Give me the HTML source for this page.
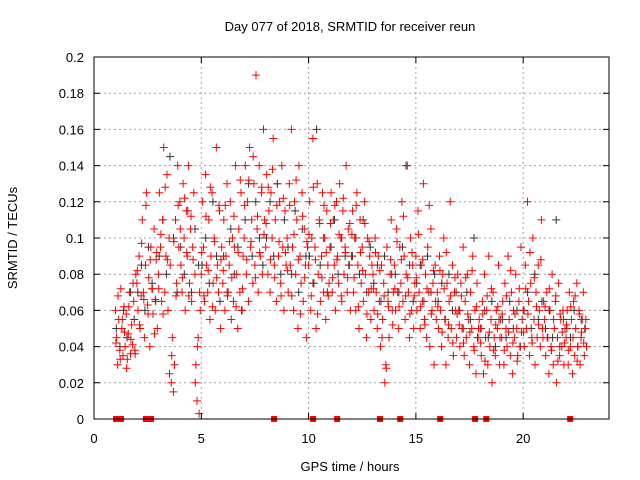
<!DOCTYPE html>
<html><head><meta charset="utf-8"><style>
body{margin:0;background:#fff}
svg{display:block;font-family:"Liberation Sans",sans-serif}
</style></head><body>
<svg id="chart" width="640" height="480" viewBox="0 0 640 480">
<rect width="640" height="480" fill="#fff"/>
<g id="grid"></g>
<g id="black"></g>
<g id="red"></g>
<g id="sq"></g>
<rect x="94" y="57" width="515" height="362" fill="none" stroke="#000" stroke-width="1"/>
<g id="ticks" font-size="13" fill="#000"></g>
<text x="350" y="31" text-anchor="middle" font-size="13">Day 077 of 2018, SRMTID for receiver reun</text>
<text x="350" y="471" text-anchor="middle" font-size="13">GPS time / hours</text>
<text transform="translate(17,238) rotate(-90)" text-anchor="middle" font-size="13">SRMTID / TECUs</text>
</svg>
<script>
const xTicks=[0,5,10,15,20];
const yTicks=[0,0.02,0.04,0.06,0.08,0.1,0.12,0.14,0.16,0.18,0.2];
const yTickLabels=["0","0.02","0.04","0.06","0.08","0.1","0.12","0.14","0.16","0.18","0.2"];
const redStartHour=1, redPerHour=20;
const redValues=[
.060,.045,.030,.055,.038,.072,.050,.035,.062,.040,.058,.033,.047,.070,.036,.052,.041,.065,.038,.080,
.075,.060,.090,.050,.068,.110,.070,.045,.085,.125,.063,.078,.040,.095,.072,.058,.105,.066,.088,.050,
.080,.125,.095,.065,.110,.150,.070,.090,.135,.060,.100,.085,.020,.045,.015,.030,.110,.075,.140,.095,
.120,.085,.070,.130,.100,.060,.115,.090,.140,.075,.105,.065,.095,.125,.080,.030,.010,.045,.003,.060,
.080,.120,.095,.065,.135,.085,.070,.110,.055,.090,.125,.075,.100,.060,.150,.085,.070,.115,.050,.095,
.075,.110,.060,.090,.130,.070,.085,.120,.055,.100,.065,.095,.140,.080,.050,.105,.070,.125,.060,.090,
.100,.140,.080,.120,.065,.150,.095,.110,.075,.130,.085,.190,.105,.070,.140,.090,.125,.080,.160,.110,
.095,.135,.080,.115,.070,.125,.100,.155,.085,.110,.065,.130,.090,.120,.075,.140,.095,.060,.115,.085,
.100,.070,.130,.085,.160,.095,.060,.120,.080,.110,.050,.140,.090,.075,.125,.065,.105,.085,.045,.095,
.085,.120,.060,.100,.155,.075,.095,.050,.130,.080,.110,.065,.090,.125,.070,.100,.055,.115,.085,.075,
.095,.125,.070,.110,.085,.060,.120,.090,.075,.130,.100,.065,.115,.080,.095,.140,.070,.105,.085,.060,
.090,.115,.070,.100,.060,.125,.085,.050,.110,.075,.095,.065,.120,.080,.045,.100,.070,.090,.055,.085,
.080,.060,.100,.070,.050,.090,.065,.040,.085,.055,.075,.020,.030,.095,.065,.045,.080,.110,.060,.070,
.085,.060,.105,.070,.050,.095,.075,.120,.065,.090,.055,.080,.140,.070,.045,.100,.060,.085,.050,.075,
.090,.060,.115,.070,.050,.085,.065,.130,.055,.080,.045,.095,.070,.040,.105,.060,.075,.030,.085,.055,
.070,.050,.090,.060,.040,.080,.100,.055,.030,.075,.045,.065,.120,.050,.085,.035,.070,.060,.045,.080,
.060,.040,.075,.050,.095,.035,.065,.045,.080,.055,.030,.070,.050,.090,.040,.060,.025,.075,.045,.055,
.050,.035,.065,.025,.080,.045,.060,.030,.090,.040,.055,.020,.070,.045,.035,.060,.050,.085,.030,.055,
.045,.065,.030,.075,.050,.040,.090,.055,.035,.070,.025,.060,.045,.080,.050,.035,.065,.040,.095,.055,
.060,.040,.085,.050,.120,.065,.035,.075,.045,.100,.055,.030,.070,.045,.085,.060,.040,.110,.050,.065,
.055,.035,.070,.045,.025,.060,.040,.080,.030,.050,.065,.020,.045,.075,.035,.055,.040,.060,.030,.050,
.045,.060,.030,.070,.040,.055,.025,.065,.035,.050,.075,.040,.060,.030,.045,.055,.070,.035,.050,.040];
const red2StartHour=1.02, red2PerHour=10;
const redValues2=[
.042,.068,.033,.055,.048,.028,.062,.044,.075,.036,
.082,.052,.097,.066,.118,.058,.088,.072,.047,.092,
.072,.102,.058,.128,.088,.025,.035,.098,.068,.118,
.105,.078,.122,.092,.068,.112,.088,.020,.040,.070,
.092,.068,.112,.082,.128,.062,.098,.078,.118,.088,
.082,.118,.068,.098,.078,.112,.062,.092,.132,.072,
.118,.088,.132,.098,.145,.078,.112,.092,.128,.102,
.108,.128,.088,.138,.078,.118,.098,.068,.122,.092,
.082,.118,.068,.102,.132,.088,.058,.112,.078,.098,
.102,.068,.128,.088,.058,.108,.078,.118,.092,.068,
.108,.078,.118,.088,.102,.068,.122,.092,.078,.108,
.102,.078,.118,.062,.092,.082,.108,.058,.098,.072,
.072,.092,.058,.082,.045,.068,.028,.062,.088,.052,
.072,.098,.062,.088,.112,.068,.078,.058,.092,.068,
.078,.102,.062,.088,.052,.072,.118,.058,.082,.065,
.062,.082,.048,.072,.092,.052,.068,.042,.078,.058,
.052,.068,.042,.078,.058,.048,.082,.038,.062,.050,
.042,.058,.032,.068,.048,.072,.038,.052,.062,.045,
.058,.038,.068,.048,.082,.042,.058,.032,.072,.048,
.048,.072,.058,.092,.042,.078,.062,.052,.088,.045,
.062,.045,.072,.038,.055,.068,.032,.058,.048,.042,
.052,.038,.062,.045,.068,.032,.058,.048,.042,.055];
const blackStartHour=1.04, blackPerHour=6;
const blackValues=[
.050,.040,.060,.045,.070,.055,
.070,.085,.060,.095,.075,.065,
.090,.110,.080,.145,.100,.070,
.095,.080,.115,.070,.105,.085,
.085,.100,.075,.120,.090,.065,
.090,.070,.105,.080,.095,.060,
.110,.130,.090,.120,.100,.085,
.100,.120,.090,.130,.080,.110,
.095,.080,.115,.070,.105,.090,
.090,.075,.160,.085,.100,.070,
.095,.110,.080,.100,.090,.085,
.090,.100,.080,.110,.070,.095,
.075,.085,.065,.090,.070,.080,
.080,.070,.095,.140,.085,.065,
.075,.085,.065,.090,.070,.080,
.065,.075,.055,.080,.060,.070,
.060,.050,.070,.055,.100,.045,
.050,.060,.045,.065,.040,.055,
.055,.045,.065,.050,.060,.040,
.060,.070,.050,.080,.055,.065,
.050,.060,.045,.110,.040,.055,
.050,.045,.060,.040,.055,.050];
const squareTimes=[1.03,1.26,2.42,2.66,8.39,10.21,11.33,13.33,14.27,16.13,17.76,18.28,22.19];

const X0=94,X1=609,Y0=419,Y1=57,XMAX=24,YMAX=0.2;
const xs=v=>X0+(v/XMAX)*(X1-X0);
const ys=v=>Y0-(v/YMAX)*(Y0-Y1);
const NS="http://www.w3.org/2000/svg";
function mk(tag,parent){const e=document.createElementNS(NS,tag);parent.appendChild(e);return e;}
const grid=document.getElementById('grid'),ticks=document.getElementById('ticks');
xTicks.forEach(t=>{const x=xs(t);
 if(t>0){const l=mk('line',grid);l.setAttribute('x1',x);l.setAttribute('x2',x);l.setAttribute('y1',Y0);l.setAttribute('y2',Y1);l.setAttribute('stroke','#a0a0a0');l.setAttribute('stroke-dasharray','2,3');
 
 }
 const tk=mk('path',ticks);tk.setAttribute('d',`M${x},${Y0}v-6M${x},${Y1}v6`);tk.setAttribute('stroke','#000');
 
 
 const tx=mk('text',ticks);tx.setAttribute('x',x);tx.setAttribute('y',Y0+24);tx.setAttribute('text-anchor','middle');tx.textContent=t;
 
 
});
yTicks.forEach((t,i)=>{const y=ys(t);
 if(t>0&&t<YMAX){const l=mk('line',grid);l.setAttribute('x1',X0);l.setAttribute('x2',X1);l.setAttribute('y1',y);l.setAttribute('y2',y);l.setAttribute('stroke','#a0a0a0');l.setAttribute('stroke-dasharray','2,3');
 
 }
 const tk=mk('path',ticks);tk.setAttribute('d',`M${X0},${y}h6M${X1},${y}h-6`);tk.setAttribute('stroke','#000');
 
 
 const tx=mk('text',ticks);tx.setAttribute('x',X0-10);tx.setAttribute('y',y+5);tx.setAttribute('text-anchor','end');tx.textContent=yTickLabels[i];
 
 
});
function plus(g,vals,start,per,color,name){let d='';
 vals.forEach((v,i)=>{const x=xs(start+i/per),y=ys(v);d+=`M${(x-4).toFixed(1)},${y.toFixed(1)}h8M${x.toFixed(1)},${(y-4).toFixed(1)}v8`;});
 const p=mk('path',g);p.setAttribute('d',d);p.setAttribute('stroke',color);p.setAttribute('stroke-width','1');p.setAttribute('fill','none');
 
 
}
plus(document.getElementById('black'),blackValues,blackStartHour,blackPerHour,'#333','black-points');
plus(document.getElementById('red'),redValues,redStartHour,redPerHour,'#f00','red-points');
plus(document.getElementById('red'),redValues2,red2StartHour,red2PerHour,'#f00','red-points-extra');
const sq=document.getElementById('sq');
squareTimes.forEach(t=>{const r=mk('rect',sq);r.setAttribute('x',xs(t)-3);r.setAttribute('y',ys(0)-3);r.setAttribute('width',6);r.setAttribute('height',6);r.setAttribute('fill','#f00');
 
 });
</script>
</body></html>
